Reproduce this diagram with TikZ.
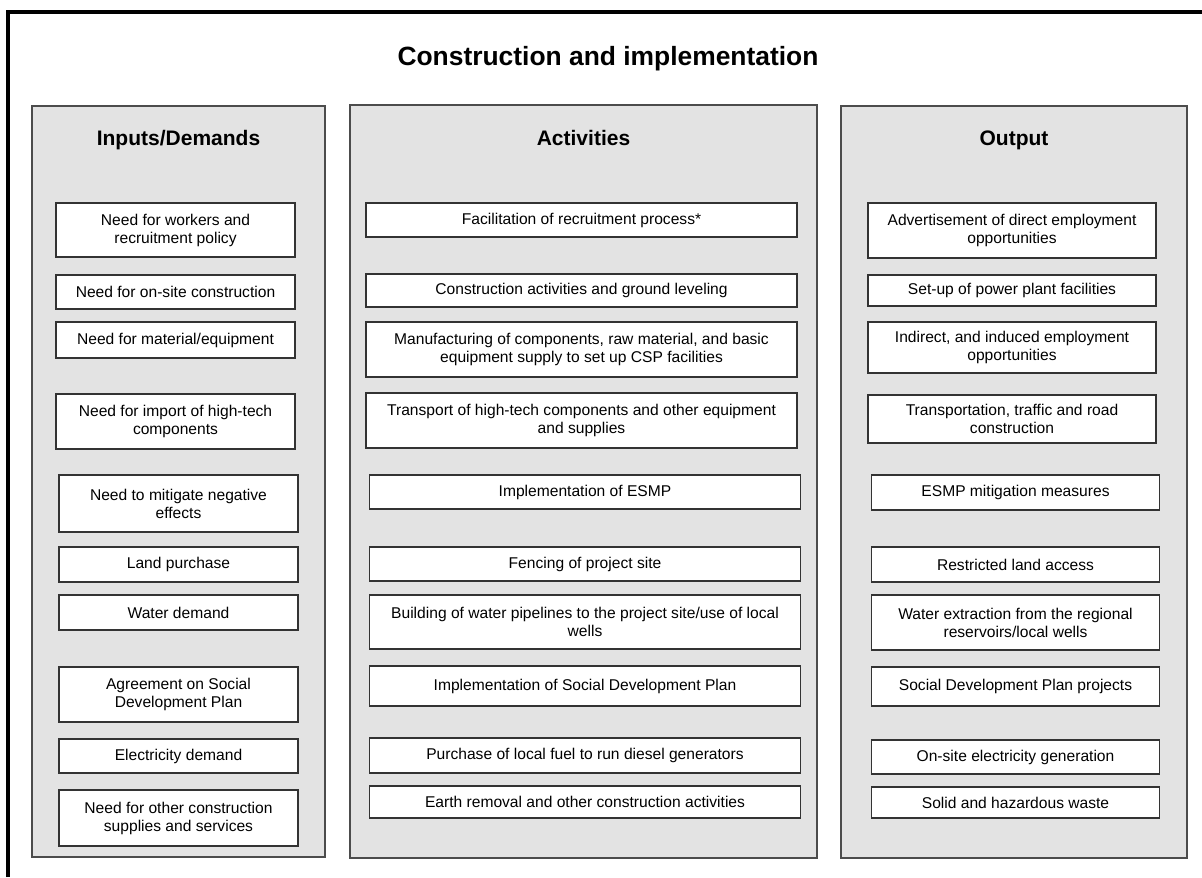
\documentclass[tikz,border=0pt]{standalone}
\usepackage{fontspec}
\setmainfont{Liberation Sans}
\newcommand{\itemfont}{\fontsize{7.8}{9}\selectfont}

\begin{document}
\begin{tikzpicture}[
  x=0.5pt, y=-0.5pt,
  frame/.style={line width=1.6pt},
  colbox/.style={draw=black!70, fill=black!11, line width=0.8pt},
  heading/.style={font=\bfseries\fontsize{10.5}{12}\selectfont, anchor=base},
  itembox/.style={draw=black!80, fill=white, line width=0.9pt, inner sep=0pt,
    align=center, font=\itemfont},
  inbox/.style={itembox, minimum width=119.5pt},
  actbox/.style={itembox, minimum width=215.5pt},
  outbox/.style={itembox, minimum width=144pt}
]
\useasboundingbox (0,0) rectangle (1202,877);

% outer frame, cut off at right and bottom
\draw[frame] (8,877) -- (8,12) -- (1202,12);

\node[font=\bfseries\fontsize{13.2}{15}\selectfont, anchor=base] (title) at (608,66)
  {Construction and implementation};

% the three columns
\draw[colbox] (32,106) rectangle (325,857);
\draw[colbox] (350,105) rectangle (817,858);
\draw[colbox] (841,106) rectangle (1187,858);

\node[heading] (inhead) at (178.5,146) {Inputs/Demands};
\node[heading] (acthead) at (583.5,146) {Activities};
\node[heading] (outhead) at (1014,146) {Output};

% Inputs/Demands
\node[inbox, minimum height=27pt] (in1) at (175.5,230) {Need for workers and\\recruitment policy};
\node[inbox, minimum height=17pt] (in2) at (175.5,292) {Need for on-site construction};
\node[inbox, minimum height=18pt] (in3) at (175.5,340) {Need for material/equipment};
\node[inbox, minimum height=27.5pt] (in4) at (175.5,421.5) {Need for import of high-tech\\components};
\node[inbox, minimum height=28.5pt] (in5) at (178.5,503.5) {Need to mitigate negative\\effects};
\node[inbox, minimum height=17.5pt] (in6) at (178.5,564.5) {Land purchase};
\node[inbox, minimum height=17.5pt] (in7) at (178.5,612.5) {Water demand};
\node[inbox, minimum height=27.5pt] (in8) at (178.5,694.5) {Agreement on Social\\Development Plan};
\node[inbox, minimum height=17pt] (in9) at (178.5,756) {Electricity demand};
\node[inbox, minimum height=28pt] (in10) at (178.5,818) {Need for other construction\\supplies and services};

% Activities
\node[actbox, minimum height=17pt] (act1) at (581.5,220) {Facilitation of recruitment process*};
\node[actbox, minimum height=16.5pt] (act2) at (581.5,290.5) {Construction activities and ground leveling};
\node[actbox, minimum height=27.5pt] (act3) at (581.5,349.5) {Manufacturing of components, raw material, and basic\\equipment supply to set up CSP facilities};
\node[actbox, minimum height=27.5pt] (act4) at (581.5,420.5) {Transport of high-tech components and other equipment\\and supplies};
\node[actbox, minimum height=17pt] (act5) at (585,492) {Implementation of ESMP};
\node[actbox, minimum height=17pt] (act6) at (585,564) {Fencing of project site};
\node[actbox, minimum height=27pt] (act7) at (585,622) {Building of water pipelines to the project site/use of local\\wells};
\node[actbox, minimum height=20pt] (act8) at (585,686) {Implementation of Social Development Plan};
\node[actbox, minimum height=17.5pt] (act9) at (585,755.5) {Purchase of local fuel to run diesel generators};
\node[actbox, minimum height=16pt] (act10) at (585,802) {Earth removal and other construction activities};

% Output
\node[outbox, minimum height=27.5pt] (out1) at (1012,230.5) {Advertisement of direct employment\\opportunities};
\node[outbox, minimum height=15.5pt] (out2) at (1012,290.5) {Set-up of power plant facilities};
\node[outbox, minimum height=25.5pt] (out3) at (1012,347.5) {Indirect, and induced employment\\opportunities};
\node[outbox, minimum height=24pt] (out4) at (1012,419) {Transportation, traffic and road\\construction};
\node[outbox, minimum height=17.5pt] (out5) at (1015.5,492.5) {ESMP mitigation measures};
\node[outbox, minimum height=17.5pt] (out6) at (1015.5,564.5) {Restricted land access};
\node[outbox, minimum height=27.5pt] (out7) at (1015.5,622.5) {Water extraction from the regional\\reservoirs/local wells};
\node[outbox, minimum height=19.5pt] (out8) at (1015.5,686.5) {Social Development Plan projects};
\node[outbox, minimum height=17pt] (out9) at (1015.5,757) {On-site electricity generation};
\node[outbox, minimum height=15.5pt] (out10) at (1015.5,802.5) {Solid and hazardous waste};

\end{tikzpicture}
\end{document}
